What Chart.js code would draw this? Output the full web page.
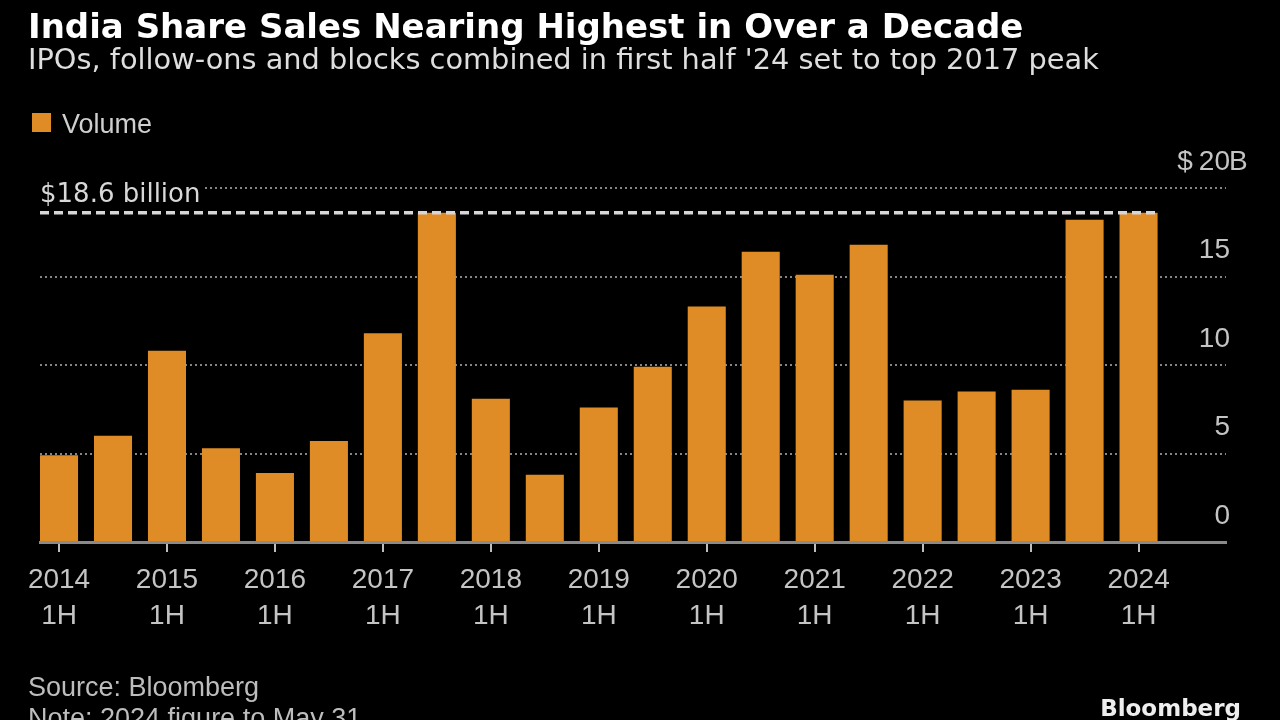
<!DOCTYPE html>
<html>
<head>
<meta charset="utf-8">
<title>India Share Sales Nearing Highest in Over a Decade</title>
<script src="https://cdn.jsdelivr.net/npm/chart.js@4.4.1/dist/chart.umd.min.js"></script>
<style>
    html, body { margin: 0; padding: 0; background: #000; }
    #wrap { width: 1280px; height: 720px; position: relative; }
</style>
</head>
<body>
<div id="wrap"><canvas id="salesChart" width="1280" height="720"></canvas></div>
<script>
// Half-year periods (2024 figure to May 31)
const periods = ['2014 1H', '2014 2H', '2015 1H', '2015 2H', '2016 1H', '2016 2H', '2017 1H',
    '2017 2H', '2018 1H', '2018 2H', '2019 1H', '2019 2H', '2020 1H', '2020 2H', '2021 1H',
    '2021 2H', '2022 1H', '2022 2H', '2023 1H', '2023 2H', '2024 1H'];

// IPOs, follow-ons and blocks combined, $ billions
const volume = [4.9, 6.0, 10.8, 5.3, 3.9, 5.7, 11.8, 18.6, 8.1, 3.8, 7.6, 9.9, 13.3, 16.4,
    15.1, 16.8, 8.0, 8.5, 8.6, 18.2, 18.6];

const yTicks = [0, 5, 10, 15, 20];
const peakValue = 18.6;
const peakLabel = '$18.6 billion';

const titleText = 'India Share Sales Nearing Highest in Over a Decade';
const subtitleText = "IPOs, follow-ons and blocks combined in first half '24 set to top 2017 peak";
const sourceText = 'Source: Bloomberg';
const noteText = 'Note: 2024 figure to May 31';

const BAR_COLOR = '#e08c26';
const TICK_COLOR = '#c4c4c4';
const TICK_FONT = { family: 'Liberation Sans', size: 28, lineHeight: 1.3 };
const Y_LABEL_OFFSET = -26;

// Texts, peak marker and the "$ ... B" unit around the top tick
const overlay = {
    id: 'overlay',
    afterDatasetsDraw(chart) {
        const { ctx, chartArea, scales } = chart;
        const bars = chart.getDatasetMeta(0).data;
        const last = bars[bars.length - 1];
        const yPeak = scales.y.getPixelForValue(peakValue);

        ctx.save();
        ctx.strokeStyle = '#d6d6d6';
        ctx.lineWidth = 3.5;
        ctx.setLineDash([9, 5]);
        ctx.beginPath();
        ctx.moveTo(chartArea.left, yPeak);
        ctx.lineTo(last.x + last.width / 2, yPeak);
        ctx.stroke();
        ctx.restore();
    },
    afterDraw(chart) {
        const { ctx, chartArea, scales } = chart;
        const yPeak = scales.y.getPixelForValue(peakValue);

        ctx.save();
        ctx.textAlign = 'left';
        ctx.textBaseline = 'alphabetic';

        ctx.fillStyle = '#ffffff';
        ctx.font = 'bold 34px "DejaVu Sans"';
        ctx.fillText(titleText, 28, 38);

        ctx.fillStyle = '#dedede';
        ctx.font = '28.8px "DejaVu Sans"';
        ctx.fillText(subtitleText, 28, 69);

        // legend
        ctx.fillStyle = BAR_COLOR;
        ctx.fillRect(32, 113, 19, 19);
        ctx.fillStyle = '#cfcfcf';
        ctx.font = '27px "Liberation Sans"';
        ctx.fillText('Volume', 62, 133);

        // peak label, masking the top gridline behind it
        ctx.font = '26px "DejaVu Sans"';
        const w = ctx.measureText(peakLabel).width;
        ctx.fillStyle = '#000';
        ctx.fillRect(chartArea.left - 4, yPeak - 34, w + 8, 28);
        ctx.fillStyle = '#d8d8d8';
        ctx.fillText(peakLabel, chartArea.left, yPeak - 11);

        // unit around the top tick label
        const yTop = scales.y.getPixelForValue(yTicks[yTicks.length - 1]) + Y_LABEL_OFFSET;
        ctx.font = `${TICK_FONT.size}px "${TICK_FONT.family}"`;
        ctx.fillStyle = TICK_COLOR;
        ctx.textBaseline = 'middle';
        const numW = ctx.measureText(String(yTicks[yTicks.length - 1])).width;
        const xr = chartArea.right + 2;
        ctx.textAlign = 'right';
        ctx.fillText('$', xr - numW - 4, yTop);
        ctx.textAlign = 'left';
        ctx.fillText('B', xr + 1, yTop);

        // footer
        ctx.textBaseline = 'alphabetic';
        ctx.fillStyle = '#bdbdbd';
        ctx.font = '27px "Liberation Sans"';
        ctx.fillText(sourceText, 28, 696);
        ctx.fillText(noteText, 28, 727);

        ctx.fillStyle = '#eeeeee';
        ctx.font = 'bold 23px "DejaVu Sans"';
        ctx.textAlign = 'right';
        ctx.fillText('Bloomberg', 1241, 716);
        ctx.restore();
    }
};

const ctx = document.getElementById('salesChart').getContext('2d');
const chart = new Chart(ctx, {
    type: 'bar',
    data: {
        datasets: [{
            label: 'Volume',
            data: volume.map((v, i) => ({ x: i, y: v })),
            backgroundColor: BAR_COLOR,
            borderWidth: 0,
            barPercentage: 0.705,
            categoryPercentage: 1
        }]
    },
    options: {
        responsive: false,
        animation: false,
        devicePixelRatio: 1,
        layout: {
            padding: { top: 188, left: 40, right: 54, bottom: 0 }
        },
        plugins: {
            legend: { display: false },
            title: { display: false },
            tooltip: { enabled: false }
        },
        scales: {
            x: {
                type: 'linear',
                min: -0.3525,
                max: 21.62,
                offset: false,
                afterFit: scale => { scale.height = 178; },
                afterBuildTicks: axis => {
                    axis.ticks = periods
                        .map((p, i) => (p.endsWith('1H') ? { value: i } : null))
                        .filter(Boolean);
                },
                grid: {
                    offset: false,
                    drawOnChartArea: false,
                    drawTicks: true,
                    tickLength: 10,
                    color: '#bdbdbd',
                    lineWidth: 2
                },
                border: {
                    display: true,
                    color: '#8a8a8a',
                    width: 3
                },
                ticks: {
                    autoSkip: false,
                    maxRotation: 0,
                    padding: 10,
                    color: TICK_COLOR,
                    font: TICK_FONT,
                    callback: value => periods[value].split(' ')
                }
            },
            y: {
                position: 'right',
                min: 0,
                max: 20,
                afterFit: scale => { scale.width = 0; },
                afterBuildTicks: axis => {
                    axis.ticks = yTicks.map(v => ({ value: v }));
                },
                grid: {
                    drawTicks: false,
                    color: ctx => (ctx.tick && ctx.tick.value === 0 ? 'rgba(0,0,0,0)' : '#858585'),
                    lineWidth: 2
                },
                border: {
                    display: false,
                    dash: [2, 3]
                },
                ticks: {
                    mirror: true,
                    padding: 4,
                    labelOffset: Y_LABEL_OFFSET,
                    color: TICK_COLOR,
                    font: TICK_FONT,
                    callback: value => String(value)
                }
            }
        }
    },
    plugins: [overlay]
});
</script>
</body>
</html>
